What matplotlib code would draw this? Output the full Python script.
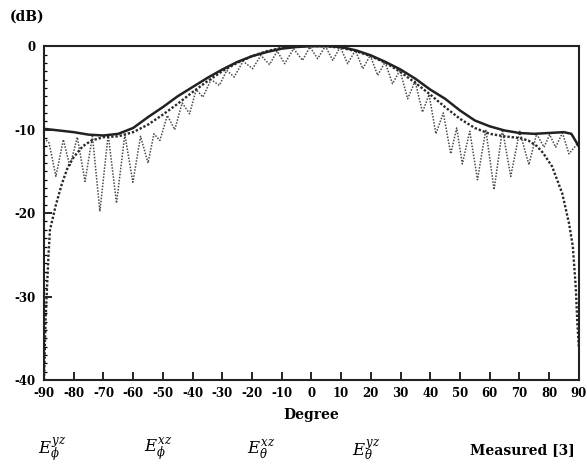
import matplotlib
matplotlib.use("Agg")
import matplotlib.pyplot as plt
from matplotlib.ticker import MultipleLocator

plt.rcParams["font.family"] = "DejaVu Serif"
plt.rcParams["mathtext.fontset"] = "dejavuserif"
plt.rcParams["axes.unicode_minus"] = False

# solid curve (deg, dB)
solid_deg = [-90, -85, -80, -75, -70, -65, -60, -55, -50, -45, -40, -35, -30, -25, -20, -15,
             -10, -5, 0, 5, 10, 15, 20, 25, 30, 35, 40, 45, 50, 55, 60, 65, 70, 75, 80, 85, 87.5, 90]
solid_db = [-9.9, -10.1, -10.3, -10.6, -10.7, -10.5, -9.8, -8.5, -7.3, -6.0, -4.9, -3.8, -2.8, -1.9,
            -1.2, -0.7, -0.3, -0.1, 0.0, 0.0, -0.1, -0.5, -1.1, -1.9, -2.8, -3.9, -5.2, -6.3, -7.7,
            -8.9, -9.6, -10.1, -10.4, -10.5, -10.4, -10.3, -10.5, -12.0]

# smooth dotted curve
dot_deg = [-90, -89.5, -89, -88.5, -88, -87, -86, -84, -82, -80, -77, -74, -70, -65, -60, -55, -50,
           -45, -40, -35, -30, -25, -20, -15, -10, -5, 0, 5, 10, 15, 20, 25, 30, 35, 40, 45, 50, 55,
           60, 65, 70, 73, 76, 78, 81, 84.4, 86.7, 88, 89, 89.5, 90]
dot_db = [-40, -33, -29, -25, -22, -20.5, -19, -16.5, -14.5, -13.3, -12.0, -11.3, -10.9, -10.8, -10.3,
          -9.4, -8.2, -6.9, -5.5, -4.2, -3.0, -2.0, -1.2, -0.6, -0.2, 0.0, 0.0, 0.0, -0.2, -0.6, -1.2,
          -2.0, -3.1, -4.4, -5.8, -7.3, -8.7, -9.8, -10.5, -10.8, -11.0, -11.3, -12.0, -12.8, -14.4,
          -17.6, -21.2, -24.0, -29.0, -33.0, -36.0]

# rippled (measured) curve: alternating peaks and nulls
rip_deg = [-90, -88.3, -86, -83.5, -81.3, -78.8, -76.2, -73.7, -71.2, -68.4, -65.6, -62.8, -60.1,
           -57.5, -55, -53, -51, -48.5, -46, -43.5, -41, -38.8, -36.5, -33.8, -31, -28.5, -26, -23,
           -19.8, -17, -14.1, -11.5, -9, -6, -3, -0.5, 2.1, 4.7, 7.2, 9.7, 12.2, 14.8, 17.3, 19.8,
           22.3, 24.8, 27.3, 29.8, 32.4, 34.9, 37.4, 39.6, 41.9, 44.4, 46.9, 48.9, 50.8, 53.3, 55.9,
           58.7, 61.5, 64.3, 67.1, 70.1, 73.2, 75.8, 78.3, 80.2, 82.2, 84.5, 86.7, 90]
rip_db = [-11.0, -11.6, -15.6, -11.2, -14.4, -10.9, -16.2, -10.8, -19.8, -10.6, -18.8, -10.6, -16.3,
          -10.8, -14.0, -10.5, -11.3, -8.3, -10.0, -6.8, -8.1, -5.2, -6.1, -4.0, -4.7, -2.9, -3.7,
          -1.8, -2.7, -1.1, -2.2, -0.6, -2.1, -0.3, -1.7, -0.1, -1.5, 0.0, -1.7, -0.1, -2.1, -0.5,
          -2.7, -1.1, -3.5, -1.9, -4.5, -2.9, -6.3, -4.2, -7.9, -5.8, -10.5, -8.0, -12.9, -9.8,
          -14.1, -10.2, -16.0, -10.0, -17.2, -10.0, -15.6, -10.2, -14.2, -10.5, -12.1, -10.6,
          -12.1, -10.4, -12.9, -11.5]

x_ticks = list(range(-90, 91, 10))
y_ticks = [0, -10, -20, -30, -40]
legend_labels = [r"$E_{\phi}^{yz}$", r"$E_{\phi}^{xz}$", r"$E_{\theta}^{xz}$", r"$E_{\theta}^{yz}$",
                 "Measured [3]"]

fig = plt.figure(figsize=(5.87, 4.71), dpi=100)
ax = fig.add_axes([0.075, 0.193, 0.911, 0.709])

ax.plot(rip_deg, rip_db, color="#4a4a4a", linestyle=(0, (1, 1)), linewidth=1.1)
ax.plot(dot_deg, dot_db, color="#2a2a2a", linestyle=(0, (1, 0.8)), linewidth=1.7)
ax.plot(solid_deg, solid_db, color="#222222", linestyle="-", linewidth=1.8)

ax.set_xlim(-90, 90)
ax.set_ylim(-40, 0)
ax.set_xticks(x_ticks)
ax.set_xticklabels([str(t) for t in x_ticks])
ax.set_yticks(y_ticks)
ax.set_yticklabels([str(t) for t in y_ticks])
ax.yaxis.set_minor_locator(MultipleLocator(1))
ax.tick_params(axis="x", direction="in", length=6, width=1.2, pad=5, labelsize=8.5)
ax.tick_params(axis="y", which="major", direction="in", length=6, width=1.2, pad=6, labelsize=8.5)
ax.tick_params(axis="y", which="minor", direction="in", length=2.5, width=0.9)
for lab in ax.get_xticklabels() + ax.get_yticklabels():
    lab.set_fontweight("bold")
for sp in ax.spines.values():
    sp.set_linewidth(1.5)
    sp.set_color("#222222")

ax.set_xlabel("Degree", fontsize=10, fontweight="bold", labelpad=6)
fig.text(0.017, 0.965, "(dB)", fontsize=10, fontweight="bold", va="center")

leg_x = [0.065, 0.245, 0.42, 0.6, 0.80]
for lx, lab in zip(leg_x, legend_labels):
    fig.text(lx, 0.045, lab, fontsize=12 if lab.startswith("$") else 10,
             fontweight="bold", va="center")

fig.savefig("out.png", dpi=100)
